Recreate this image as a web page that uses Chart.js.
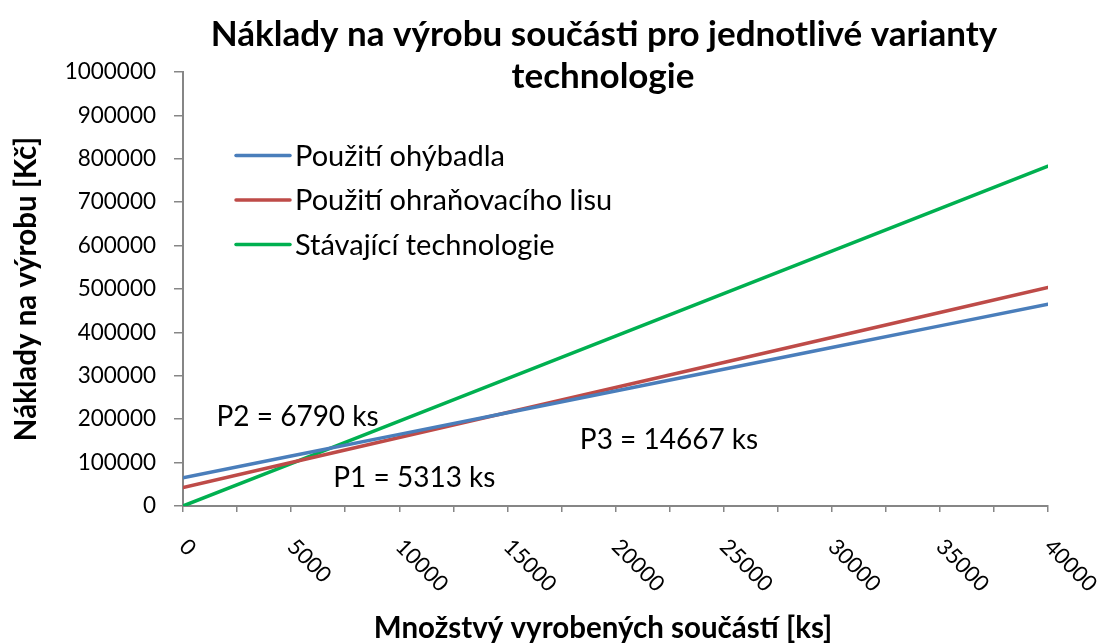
<!DOCTYPE html>
<html lang="cs">
<head>
<meta charset="utf-8">
<title>Náklady na výrobu součásti</title>
<script src="https://cdn.jsdelivr.net/npm/chart.js@4.4.1/dist/chart.umd.min.js"></script>
<style>
  html, body { margin: 0; padding: 0; background: #fff; }
  #wrap { width: 1102px; height: 644px; }
</style>
</head>
<body>
<div id="wrap"><canvas id="myChart" width="1102" height="644"></canvas></div>
<script>
// počet vyrobených součástí [ks]
const pieces = [0, 5000, 10000, 15000, 20000, 25000, 30000, 35000, 40000];

// náklady [Kč]
const ohybadlo = [65000, 115000, 165000, 215000, 265000, 315000, 365000, 415000, 465000];
const lis = [42800, 100400, 157900, 215500, 273100, 330600, 388200, 445700, 503300];
const stavajici = [0, 97900, 195700, 293600, 391500, 489300, 587200, 685100, 782900];

const seriesNames = ['Použití ohýbadla', 'Použití ohraňovacího lisu', 'Stávající technologie'];
const xTickLabels = ['0', '5000', '10000', '15000', '20000', '25000', '30000', '35000', '40000'];
const breakEvenLabels = ['P2 = 6790 ks', 'P1 = 5313 ks', 'P3 = 14667 ks'];

const titleLines = ['Náklady na výrobu součásti pro jednotlivé varianty', 'technologie'];
const xTitle = 'Množstvý vyrobených součástí [ks]';
const yTitle = 'Náklady na výrobu [Kč]';

const FONT = 'Lato';
const AXIS_GRAY = '#868686';

function points(values) {
    return pieces.map((x, i) => ({ x: x, y: values[i] }));
}

// title, rotated x labels, legend inside the plot and the break-even notes
const extras = {
    id: 'extras',
    afterDraw(chart) {
        const ctx = chart.ctx;
        const area = chart.chartArea;
        const xs = chart.scales.x;
        const ys = chart.scales.y;

        ctx.save();
        ctx.fillStyle = '#000';

        // title
        ctx.font = 'bold 35px ' + FONT;
        ctx.textAlign = 'center';
        ctx.textBaseline = 'alphabetic';
        ctx.fillText(titleLines[0], 604, 46);
        ctx.fillText(titleLines[1], 603, 88);

        // x axis title
        ctx.font = 'bold 29.5px ' + FONT;
        ctx.fillText(xTitle, 603, 638);

        // x tick labels, turned 45° clockwise
        ctx.font = '22px ' + FONT;
        ctx.textAlign = 'left';
        ctx.textBaseline = 'middle';
        xTickLabels.forEach(function(lbl) {
            const px = xs.getPixelForValue(Number(lbl));
            ctx.save();
            ctx.translate(px, area.bottom + 37);
            ctx.rotate(Math.PI / 4);
            ctx.fillText(lbl, 0, 0);
            ctx.restore();
        });

        // legend
        ctx.font = '29px ' + FONT;
        ctx.lineWidth = 3.5;
        ctx.lineCap = 'round';
        chart.data.datasets.forEach(function(ds, i) {
            const y = area.top + 83.5 + i * 44.5;
            ctx.strokeStyle = ds.borderColor;
            ctx.beginPath();
            ctx.moveTo(area.left + 53, y);
            ctx.lineTo(area.left + 107, y);
            ctx.stroke();
            ctx.fillText(ds.label, area.left + 112, y + 1);
        });

        // break-even notes
        ctx.font = '28px ' + FONT;
        ctx.textBaseline = 'alphabetic';
        const spots = [[1550, 183600], [6950, 43000], [18350, 130600]];
        breakEvenLabels.forEach(function(t, i) {
            ctx.fillText(t, xs.getPixelForValue(spots[i][0]), ys.getPixelForValue(spots[i][1]));
        });

        ctx.restore();
    }
};

const data = {
    datasets: [{
        label: seriesNames[0],
        data: points(ohybadlo),
        borderColor: '#4A7EBB'
    }, {
        label: seriesNames[1],
        data: points(lis),
        borderColor: '#BE4B48'
    }, {
        label: seriesNames[2],
        data: points(stavajici),
        borderColor: '#00B050'
    }]
};

const config = {
    type: 'line',
    data: data,
    options: {
        responsive: false,
        animation: false,
        events: [],
        layout: {
            padding: { top: 72, right: 54, bottom: 0, left: 0 }
        },
        elements: {
            point: { radius: 0 },
            line: { borderWidth: 3.5, borderCapStyle: 'round', tension: 0 }
        },
        scales: {
            x: {
                type: 'linear',
                min: 0,
                max: 40000,
                ticks: { display: false, stepSize: 2500 },
                grid: {
                    drawOnChartArea: false,
                    color: AXIS_GRAY,
                    lineWidth: 1.5,
                    tickLength: 6
                },
                border: { color: AXIS_GRAY, width: 2 },
                afterFit: function(scale) { scale.height = 138; }
            },
            y: {
                min: 0,
                max: 1000000,
                ticks: {
                    stepSize: 100000,
                    padding: 18,
                    color: '#000',
                    font: { family: FONT, size: 22.5 },
                    callback: function(v) { return String(v); }
                },
                grid: {
                    drawOnChartArea: false,
                    color: AXIS_GRAY,
                    lineWidth: 1.5,
                    tickLength: 9
                },
                border: { color: AXIS_GRAY, width: 2 },
                title: {
                    display: true,
                    text: yTitle,
                    color: '#000',
                    font: { family: FONT, size: 29.5, weight: 'bold' },
                    padding: { top: 9, bottom: 0 }
                },
                afterFit: function(scale) { scale.width = 183; }
            }
        },
        plugins: {
            legend: { display: false },
            tooltip: { enabled: false }
        }
    },
    plugins: [extras]
};

const chart = new Chart(document.getElementById('myChart'), config);
</script>
</body>
</html>
